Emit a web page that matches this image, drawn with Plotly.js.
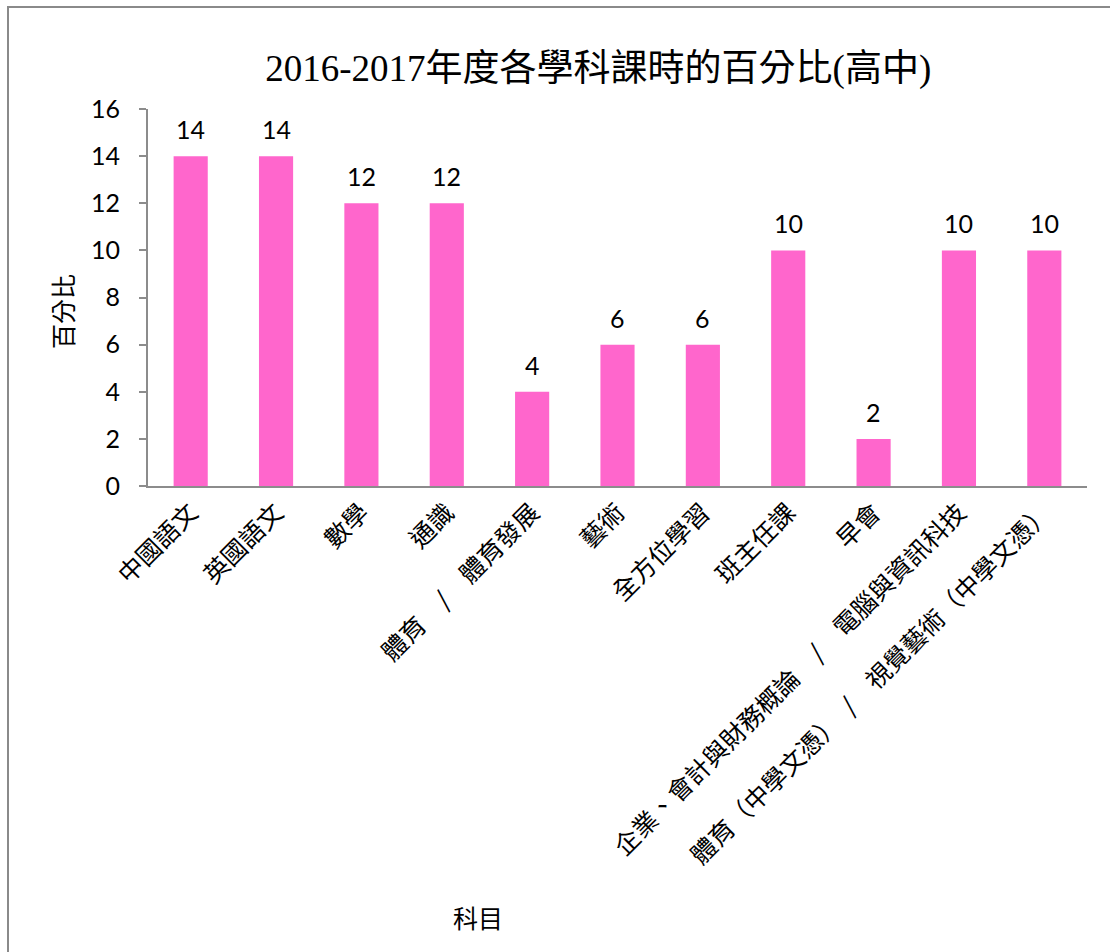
<!DOCTYPE html>
<html>
<head>
<meta charset="utf-8">
<script src="https://cdn.plot.ly/plotly-3.0.1.min.js"></script>
<style>
  html, body { margin: 0; padding: 0; background: #fff; overflow: hidden; }
  #chart { width: 1110px; height: 952px; }
  #frame { position: absolute; left: 7px; top: 6px; width: 1200px; height: 1100px;
           border: 2px solid #8a8a8a; pointer-events: none; }
</style>
</head>
<body>
<div id="chart"></div>
<div id="frame"></div>
<script>
const categories = [
  "中國語文", "英國語文", "數學", "通識", "體育　/　體育發展", "藝術",
  "全方位學習", "班主任課", "早會",
  "企業、會計與財務概論　/　電腦與資訊科技",
  "體育（中學文憑）　/　視覺藝術（中學文憑）"
];
const percentages = [14, 14, 12, 12, 4, 6, 6, 10, 2, 10, 10];
const yTicks = [0, 2, 4, 6, 8, 10, 12, 14, 16];

const titleText = "2016-2017年度各學科課時的百分比(高中)";
const xTitleText = "科目";
const yTitleText = "百分比";

const numFont = "Lato, 'Open Sans', 'Liberation Sans', sans-serif";
const cjkFont = "'Liberation Serif', 'Noto Sans CJK TC', serif";
const cjkSans = "'Noto Sans CJK TC', 'Noto Sans CJK JP', sans-serif";

const trace = {
  type: "bar",
  x: categories,
  y: percentages,
  marker: { color: "#FF66CC" },
  cliponaxis: false,
  hoverinfo: "x+y"
};

const valueLabels = categories.map((c, i) => ({
  x: c, y: percentages[i], xref: "x", yref: "y",
  text: String(percentages[i]), showarrow: false,
  xanchor: "center", yanchor: "bottom", yshift: 10,
  font: { family: numFont, size: 25, color: "#000" }
}));

const layout = {
  width: 1110,
  height: 952,
  margin: { l: 148, r: 23, t: 109, b: 466 },
  paper_bgcolor: "#fff",
  plot_bgcolor: "#fff",
  showlegend: false,
  bargap: 0.6,
  title: {
    text: titleText,
    font: { family: cjkFont, size: 37, color: "#000" },
    xref: "container", yref: "container",
    x: 0.539, y: 1 - 68 / 952,
    xanchor: "center", yanchor: "middle"
  },
  xaxis: {
    type: "category",
    tickangle: -45,
    tickfont: { family: cjkSans, size: 25, color: "#000" },
    showline: true, linecolor: "#8c8c8c", linewidth: 2,
    ticks: "", showgrid: false, zeroline: false,
    automargin: false, fixedrange: true
  },
  yaxis: {
    range: [0, 16],
    tickvals: yTicks,
    ticktext: yTicks.map(String),
    ticks: "outside", ticklen: 7, tickwidth: 1.5, tickcolor: "#8c8c8c",
    ticklabelstandoff: 14,
    tickfont: { family: numFont, size: 25, color: "#000" },
    showline: true, linecolor: "#8c8c8c", linewidth: 2,
    showgrid: false, zeroline: false,
    automargin: false, fixedrange: true
  },
  annotations: valueLabels.concat([
    {
      text: xTitleText, xref: "paper", yref: "paper",
      x: (478 - 148) / 939, y: (486 - 917) / 377,
      xanchor: "center", yanchor: "middle", showarrow: false,
      font: { family: cjkSans, size: 25, color: "#000" }
    },
    {
      text: yTitleText, xref: "paper", yref: "paper",
      x: (62 - 148) / 939, y: (486 - 312) / 377,
      xanchor: "center", yanchor: "middle", showarrow: false, textangle: -90,
      font: { family: cjkSans, size: 25, color: "#000" }
    }
  ])
};

Plotly.newPlot("chart", [trace], layout, { displayModeBar: false, responsive: false });
</script>
</body>
</html>
